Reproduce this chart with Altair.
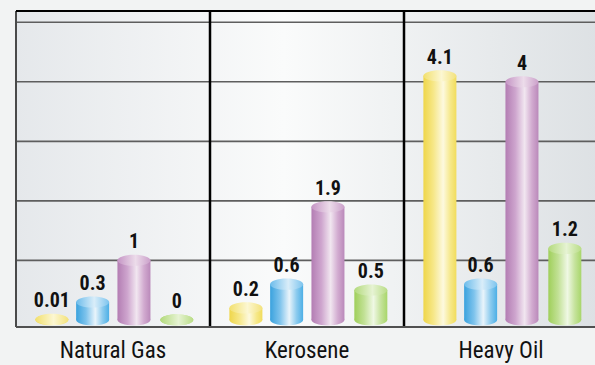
import altair as alt
import pandas as pd

# ---- data ----
categories = ["Natural Gas", "Kerosene", "Heavy Oil"]
series = ["Series 1", "Series 2", "Series 3", "Series 4"]
natural_gas = [0.01, 0.3, 1, 0]
kerosene = [0.2, 0.6, 1.9, 0.5]
heavy_oil = [4.1, 0.6, 4, 1.2]
gridline_values = [1, 2, 3, 4, 5]
divider_values = [1, 2]

# ---- layout / style ----
PANEL_PX = 194
W, H = 579, 316
offsets = [0.185, 0.395, 0.608, 0.829]
half = 16.5 / PANEL_PX
Y_MIN, Y_MAX = -0.12, 5.19
X_MAX = W / PANEL_PX
FONT = "'Roboto Condensed', 'Arial Narrow', 'Liberation Sans Narrow', Roboto, sans-serif"

rows = []
for ci, (cat, vals) in enumerate(zip(categories, [natural_gas, kerosene, heavy_oil])):
    for si, (s, v) in enumerate(zip(series, vals)):
        c = ci + offsets[si]
        rows.append(dict(category=cat, series=s, value=v, zero=0.0,
                         xc=c, xl=c - half, xr=c + half, label=f"{v:g}"))
df = pd.DataFrame(rows)
cat_df = pd.DataFrame({"category": categories,
                       "xc": [i + 0.5 for i in range(len(categories))],
                       "base": [Y_MIN] * len(categories)})

xs = alt.Scale(domain=[0, X_MAX], nice=False, zero=False)
ys = alt.Scale(domain=[Y_MIN, Y_MAX], nice=False, zero=False)


def hgrad(stops):
    return {"gradient": "linear", "x1": 0, "x2": 1, "y1": 0, "y2": 0,
            "stops": [{"offset": o, "color": c} for o, c in stops]}


body_grads = [
    hgrad([(0, "#efd64a"), (0.3, "#f6e787"), (0.6, "#fdf9df"), (0.82, "#f6e889"), (1, "#f1dc5c")]),
    hgrad([(0, "#3aa2de"), (0.3, "#7ec3ec"), (0.58, "#e9f4fb"), (0.8, "#8ccbee"), (1, "#4cafe6")]),
    hgrad([(0, "#b37db3"), (0.3, "#cea5ce"), (0.58, "#f1e6f0"), (0.8, "#d2abd0"), (1, "#ba89ba")]),
    hgrad([(0, "#9fcf5a"), (0.3, "#c2e196"), (0.58, "#eff8e4"), (0.8, "#c6e39d"), (1, "#a8d66a")]),
]
top_grads = [
    hgrad([(0, "#f2e06e"), (0.55, "#fcf7d2"), (1, "#f3e27c")]),
    hgrad([(0, "#6cbceb"), (0.55, "#d9edf9"), (1, "#7cc4ee")]),
    hgrad([(0, "#c595c5"), (0.55, "#ecdcea"), (1, "#cba0ca")]),
    hgrad([(0, "#b3da7c"), (0.55, "#e6f3d3"), (1, "#b9dd86")]),
]

k = 0.34
c = 0.5523
ELLIPSE = (f"M-1,0 C-1,{-c*k:.4f} {-c:.4f},{-k} 0,{-k} "
           f"C{c:.4f},{-k} 1,{-c*k:.4f} 1,0 "
           f"C1,{c*k:.4f} {c:.4f},{k} 0,{k} "
           f"C{-c:.4f},{k} -1,{c*k:.4f} -1,0 Z")
ELL_SIZE = 33 ** 2

layers = []

# background
bg = pd.DataFrame({"x0": [0.0], "x1": [3.0], "y0": [Y_MIN], "y1": [Y_MAX]})
layers.append(
    alt.Chart(bg).mark_rect(
        color=hgrad([(0, "#e5e8eb"), (0.46, "#fafbfb"), (1, "#dde1e4")])
    ).encode(
        x=alt.X("x0:Q", scale=xs, axis=None),
        x2="x1:Q",
        y=alt.Y("y0:Q", scale=ys, axis=None),
        y2="y1:Q",
    )
)

# gridlines
layers.append(
    alt.Chart(pd.DataFrame({"g": gridline_values})).mark_rule(color="#5e5e5e", strokeWidth=1.6)
    .encode(y=alt.Y("g:Q", scale=ys, axis=None))
)

# bars (cylinders)
for si, s in enumerate(series):
    sub = df[df["series"] == s]
    layers.append(
        alt.Chart(sub).mark_point(shape=ELLIPSE, size=ELL_SIZE, filled=True, opacity=1,
                                  strokeWidth=0, fill=body_grads[si])
        .encode(x=alt.X("xc:Q", scale=xs, axis=None), y=alt.Y("zero:Q", scale=ys, axis=None))
    )
    layers.append(
        alt.Chart(sub).mark_rect(color=body_grads[si])
        .encode(x=alt.X("xl:Q", scale=xs, axis=None), x2="xr:Q",
                y=alt.Y("zero:Q", scale=ys, axis=None), y2="value:Q")
    )
    layers.append(
        alt.Chart(sub).mark_point(shape=ELLIPSE, size=ELL_SIZE, filled=True, opacity=1,
                                  strokeWidth=0, fill=top_grads[si])
        .encode(x=alt.X("xc:Q", scale=xs, axis=None), y=alt.Y("value:Q", scale=ys, axis=None))
    )

# borders
layers.append(
    alt.Chart(pd.DataFrame({"d": divider_values})).mark_rule(color="#000000", strokeWidth=2.5)
    .encode(x=alt.X("d:Q", scale=xs, axis=None))
)
layers.append(
    alt.Chart(pd.DataFrame({"d": [0.0]})).mark_rule(color="#4a4a4a", strokeWidth=2)
    .encode(x=alt.X("d:Q", scale=xs, axis=None))
)
layers.append(
    alt.Chart(pd.DataFrame({"b": [Y_MAX]})).mark_rule(color="#000000", strokeWidth=2)
    .encode(y=alt.Y("b:Q", scale=ys, axis=None))
)
layers.append(
    alt.Chart(pd.DataFrame({"b": [Y_MIN]})).mark_rule(color="#505050", strokeWidth=2)
    .encode(y=alt.Y("b:Q", scale=ys, axis=None))
)

# value labels
layers.append(
    alt.Chart(df).mark_text(font=FONT, fontWeight="bold", fontSize=20, dy=-12,
                            baseline="alphabetic", align="center", color="#111111")
    .encode(x=alt.X("xc:Q", scale=xs, axis=None), y=alt.Y("value:Q", scale=ys, axis=None),
            text="label:N")
)

# category labels
layers.append(
    alt.Chart(cat_df).mark_text(font=FONT, fontSize=23, dy=31,
                                baseline="alphabetic", align="center", color="#111111")
    .encode(x=alt.X("xc:Q", scale=xs, axis=None), y=alt.Y("base:Q", scale=ys, axis=None),
            text="category:N")
)

chart = alt.layer(*layers).properties(
    width=W, height=H,
    padding={"left": 16, "top": 11, "right": 0, "bottom": 38},
    autosize=alt.AutoSizeParams(type="none"),
    background="#f2f3f3",
).configure_view(stroke=None)

chart.save("out.html", embed_options={"renderer": "svg", "actions": False})
